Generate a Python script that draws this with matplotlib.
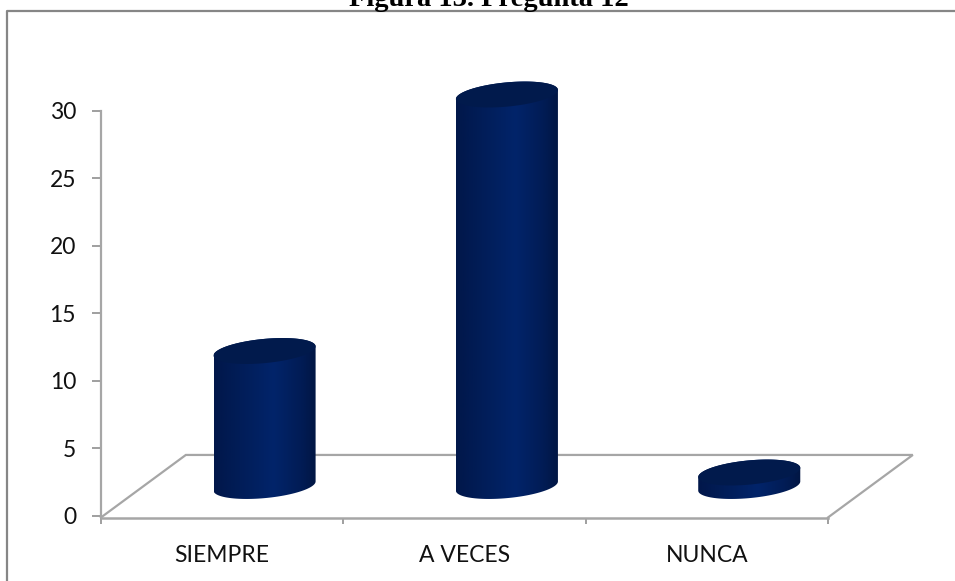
import matplotlib
matplotlib.use("Agg")
import matplotlib.pyplot as plt
import numpy as np
from matplotlib.colors import LinearSegmentedColormap
from matplotlib.lines import Line2D
from matplotlib.patches import Polygon

categories = ["SIEMPRE", "A VECES", "NUNCA"]
values = [10, 29, 1]
y_ticks = [0, 5, 10, 15, 20, 25, 30]

W, H = 955, 581
GRAY = "#a6a6a6"
body_cmap = LinearSegmentedColormap.from_list(
    "body", [(0, "#01174a"), (0.2, "#011c55"), (0.58, "#02246a"), (0.85, "#011c55"), (1, "#011643")])
TOP_COLOR = "#011a4c"

# cylinder shape in data units (x = category, y = value)
RX, SHEAR, RY = 0.197, 0.0743, 0.96
OFF_X, OFF_Y = 0.175, 2.2
DEPTH_X, DEPTH_Y = 0.35, 4.5


def ellipse(cx, cy, t):
    return cx + RX * np.cos(t) + SHEAR * np.sin(t), cy + RY * np.sin(t)


def draw_cylinder(ax, i, val):
    cx, y0 = i + OFF_X, OFF_Y
    y1 = y0 + val
    phi = np.arctan2(SHEAR, RX)
    # whole outline: front of the base, then back of the top
    bx, by = ellipse(cx, y0, np.linspace(phi, phi - np.pi, 80))
    tx, ty = ellipse(cx, y1, np.linspace(phi + np.pi, phi, 80))
    body = Polygon(np.column_stack([np.r_[bx, tx], np.r_[by, ty]]),
                   closed=True, fc="none", ec="none", transform=ax.transData)
    ax.add_patch(body)
    half = np.hypot(RX, SHEAR)
    im = ax.imshow(np.linspace(0, 1, 200).reshape(1, -1), cmap=body_cmap, aspect="auto",
                   extent=(cx - half, cx + half, y0 - RY, y1 + RY), zorder=3)
    # the top of the tallest cylinder goes over the axes box
    im.set_clip_box(fig.bbox)
    im.set_clip_path(body)
    t = np.linspace(0, 2 * np.pi, 160)
    ex, ey = ellipse(cx, y1, t)
    ax.fill(ex, ey, color=TOP_COLOR, lw=0, zorder=4, clip_on=False)


fig = plt.figure(figsize=(W / 100, H / 100), dpi=100, facecolor="white")
ax = fig.add_axes([101 / W, 1 - 515.7 / H, 727 / W, 405 / H])
ax.set_xlim(-0.5, 2.5)
ax.set_ylim(0, 30)

# floor of the 3D chart
fl = -0.13
x0, x1 = -0.5, 2.5
ax.plot([x0, x0 + DEPTH_X, x1 + DEPTH_X, x1], [fl, DEPTH_Y, DEPTH_Y, fl],
        color=GRAY, lw=1.6, zorder=1, clip_on=False, solid_joinstyle="miter")

for i, v in enumerate(values):
    draw_cylinder(ax, i, v)
ax.set_xlim(-0.5, 2.5)
ax.set_ylim(0, 30)

for s in ["top", "right"]:
    ax.spines[s].set_visible(False)
ax.spines["left"].set_color(GRAY)
ax.spines["left"].set_linewidth(1.6)
ax.spines["bottom"].set_color(GRAY)
ax.spines["bottom"].set_linewidth(1.8)
ax.spines["bottom"].set_position(("outward", 1.3))

ax.set_yticks(y_ticks)
ax.set_xticks([-0.5, 0.5, 1.5, 2.5])
ax.set_xticklabels([])
ax.set_xticks([0, 1, 2], categories, minor=True)
ax.tick_params(axis="y", length=6.5, width=1.2, color="#8f8f8f", pad=11.5, labelsize=16.5)
ax.tick_params(axis="x", which="major", length=4.5, width=1.2, color="#8f8f8f")
ax.tick_params(axis="x", which="minor", length=0, pad=20, labelsize=16.5)
for lab in ax.get_yticklabels() + ax.get_xticklabels(minor=True):
    lab.set_fontfamily("Lato")
    lab.set_color("#111111")

# frame of the pasted chart, runs off the page at right and bottom
fig.add_artist(Line2D([7 / W, 7 / W, 1], [0, 1 - 11 / H, 1 - 11 / H], color="#868686", lw=1.6))

fig.text(489 / W, 1 - 6 / H, "Figura 13. Pregunta 12", family="Liberation Serif", weight="bold",
         fontsize=20.5, ha="center", va="baseline", color="black")

fig.savefig("out.png", dpi=100)
